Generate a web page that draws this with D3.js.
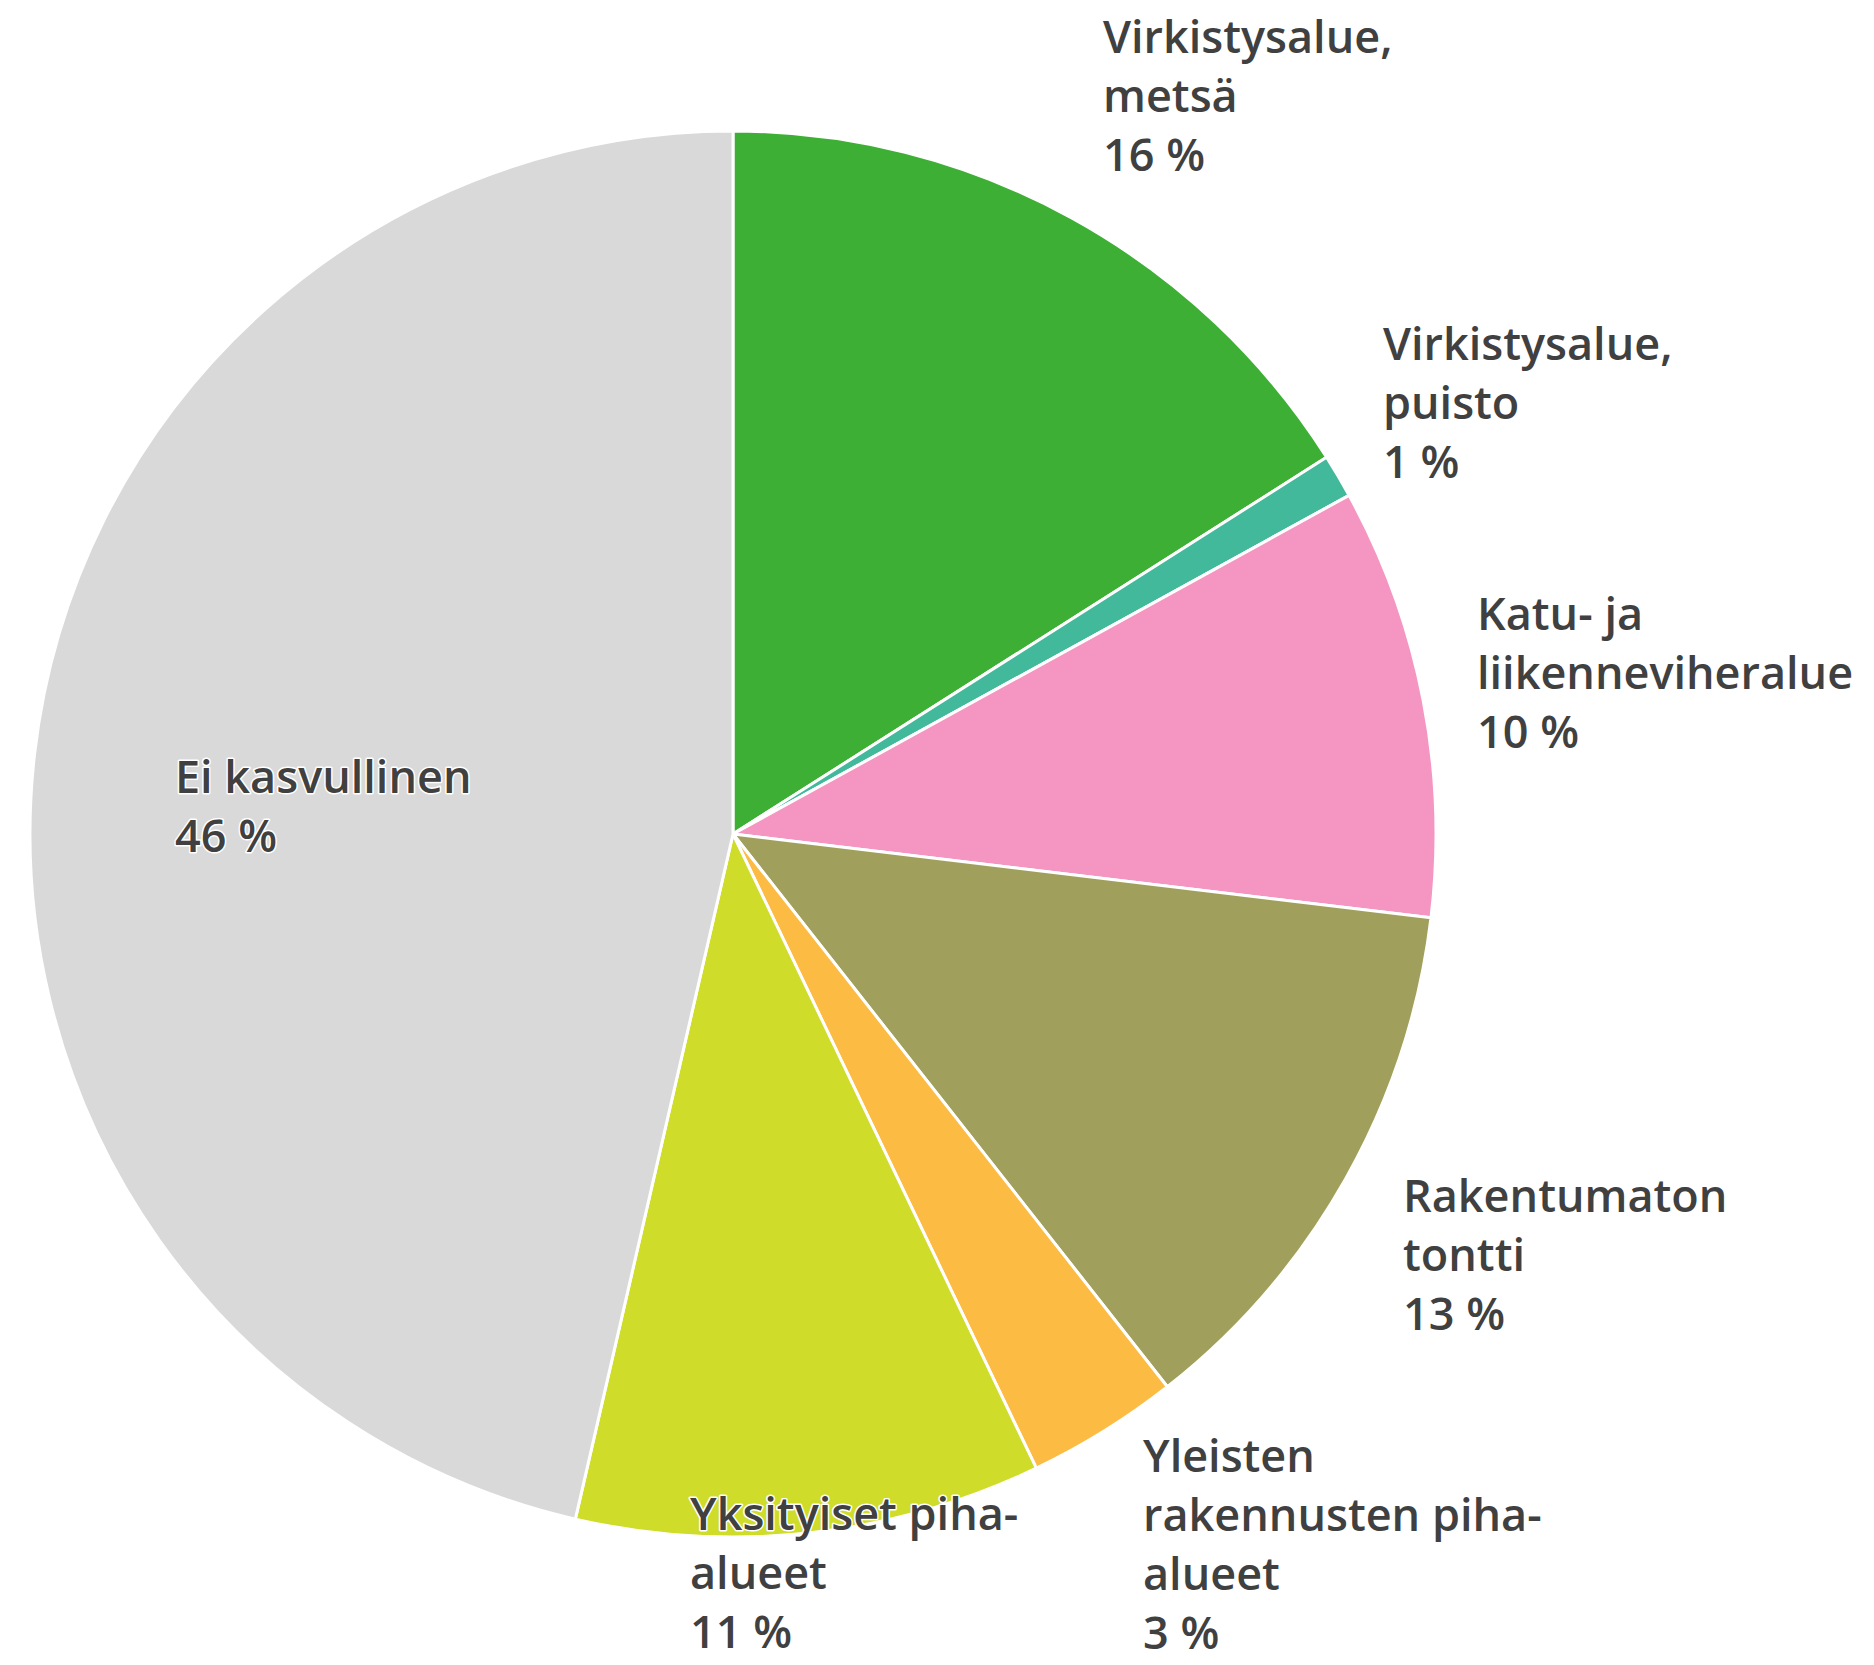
<!DOCTYPE html>
<html><head><meta charset="utf-8">
<script src="https://cdn.jsdelivr.net/npm/d3@7"></script>
<style>body{margin:0;background:#fff}</style>
</head><body>
<svg id="c" width="1874" height="1665"></svg>
<script>
const categories = ["Virkistysalue, metsä","Virkistysalue, puisto","Katu- ja liikenneviheralue","Rakentumaton tontti","Yleisten rakennusten piha-alueet","Yksityiset piha-alueet","Ei kasvullinen"];
const values = [16.0, 1.0, 9.9, 12.5, 3.5, 10.7, 46.4];
const pctLabels = ["16 %","1 %","10 %","13 %","3 %","11 %","46 %"];
const labelLines = [["Virkistysalue,","metsä"],["Virkistysalue,","puisto"],["Katu- ja","liikenneviheralue"],["Rakentumaton","tontti"],["Yleisten","rakennusten piha-","alueet"],["Yksityiset piha-","alueet"],["Ei kasvullinen"]];
const colors = ["#3daf35","#42b99b","#f496c1","#a0a05c","#fcbb42","#cfdc29","#d9d9d9"];
// layout: label first baseline positions
const labelPos = [[1103,53],[1383,360],[1477,630],[1403,1212],[1143,1472],[690,1530],[175,793]];

const svg = d3.select("#c");
const cx = 733, cy = 834, R = 703;
const g = svg.append("g").attr("transform",`translate(${cx},${cy})`);
const pie = d3.pie().sort(null).value(d=>d);
const arcs = pie(values);
const arc = d3.arc().innerRadius(0).outerRadius(R);
g.selectAll("path").data(arcs).join("path")
  .attr("d",arc).attr("fill",(d,i)=>colors[i])
  .attr("stroke","#fff").attr("stroke-width",3).attr("stroke-linejoin","round");

const lh = 59;
const lbl = svg.append("g");
categories.forEach((c,i)=>{
  const lines = labelLines[i].concat([pctLabels[i]]);
  const t = lbl.append("text")
    .attr("x",labelPos[i][0]).attr("y",labelPos[i][1])
    .attr("font-family","'Open Sans', Roboto, sans-serif")
    .attr("font-weight",600).attr("font-size",45)
    .attr("fill","#404040")
    .attr("stroke","#fff").attr("stroke-width",3).attr("stroke-linejoin","round")
    .attr("paint-order","stroke");
  lines.forEach((l,j)=>{
    t.append("tspan").attr("x",labelPos[i][0]).attr("dy", j===0?0:lh).text(l);
  });
});
</script>
</body></html>
